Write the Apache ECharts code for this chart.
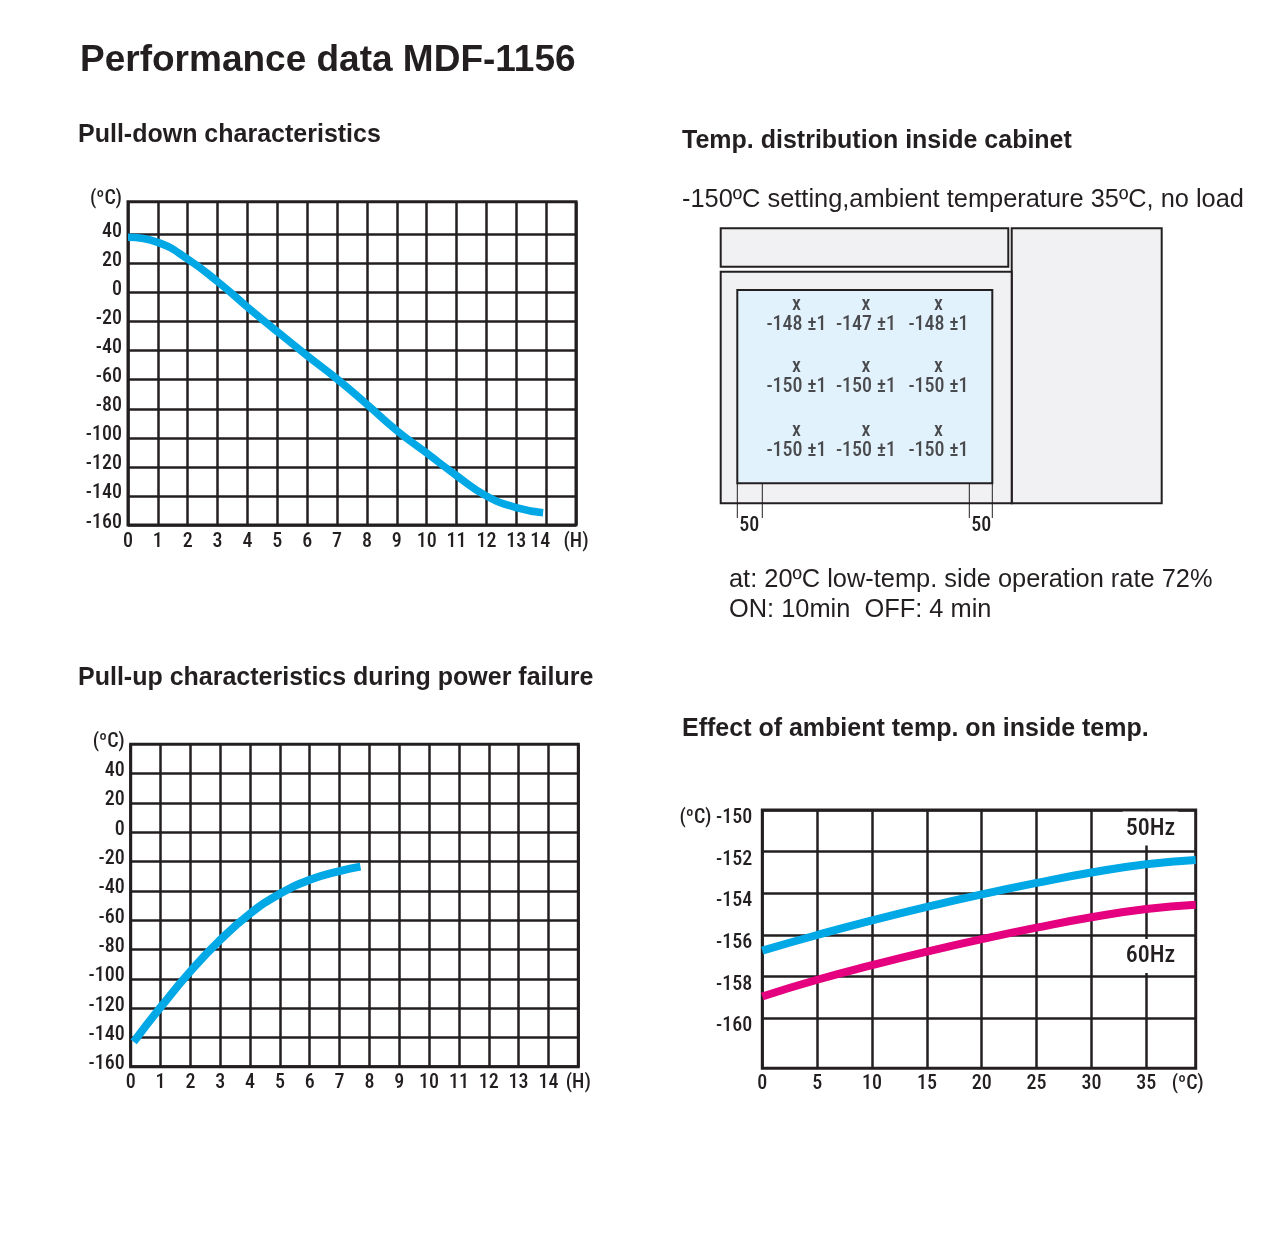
<!DOCTYPE html>
<html>
<head>
<meta charset="utf-8">
<script src="https://cdn.jsdelivr.net/npm/echarts@6/dist/echarts.min.js"></script>
<style>
html,body{margin:0;padding:0;background:#ffffff;}
#chart{width:1276px;height:1239px;}
</style>
</head>
<body>
<div id="chart"></div>
<script>
// ---------- DATA ----------
// Pull-down characteristics (hours, °C)
const pullDownHours = [0, 1, 2, 3, 4, 5, 6, 7, 8, 9, 10, 11, 12, 13, 13.9];
const pullDownTemps = [38, 34.5, 23, 7.5, -10, -27, -43.5, -59.5, -77, -95, -110.5, -126, -140, -148, -151.5];

// Pull-up characteristics during power failure (hours, °C)
const pullUpHours = [0.1, 1, 2, 3, 4, 5, 6, 7, 7.7];
const pullUpTemps = [-143, -119.5, -95, -73.5, -55.5, -42, -32.5, -26.5, -23.5];

// Effect of ambient temp. on inside temp.
const ambientTemps = [0, 5, 10, 15, 20, 25, 30, 35, 39.5];
const inside50Hz = [-156.75, -156.0, -155.3, -154.65, -154.05, -153.5, -153.0, -152.6, -152.4];
const inside60Hz = [-158.95, -158.15, -157.45, -156.8, -156.2, -155.65, -155.15, -154.75, -154.55];

// Tick labels
const hourTicks = [0, 1, 2, 3, 4, 5, 6, 7, 8, 9, 10, 11, 12, 13, 14];
const pullTempTicks = [-160, -140, -120, -100, -80, -60, -40, -20, 0, 20, 40];
const ambientTicks = [0, 5, 10, 15, 20, 25, 30, 35];
const insideTicks = [-160, -158, -156, -154, -152, -150];

// Temperature distribution inside cabinet (°C, tolerance ±1)
const sensorRows = [
  [-148, -147, -148],
  [-150, -150, -150],
  [-150, -150, -150]
];
const sensorTolerance = 1;
const clearanceLabels = ['50', '50'];

// ---------- STYLE / LAYOUT ----------
const INK = '#231f20';
const CYAN = '#00a8e6';
const MAGENTA = '#e4007f';
const NARROW = "Roboto,'DejaVu Sans Condensed',sans-serif";
const STRETCH = 'condensed';
const SANS = "'Liberation Sans',Arial,Helvetica,sans-serif";
const GRID_W = 2.5;

// cabinet drawing in a hidden coordinate frame (0..442 x 0..290)
const cabinetParts = [
  {kind: 'shell', rect: [0.7, 0.3, 288.3, 38.7]},
  {kind: 'shell', rect: [291.7, 0.3, 441.7, 275.3]},
  {kind: 'shell', rect: [0.7, 43.7, 291.7, 275.3]},
  {kind: 'chamber', rect: [17.3, 62, 272.3, 255.3]}
];
const partFill = {shell: '#f1f1f3', chamber: '#e2f2fc'};
const clearanceSpans = [[17.3, 42.3], [249.3, 272.3]];
const sensorCols = [76.5, 146, 218.5];
const sensorRowY = [87, 149.5, 213];

const labelBase = {color: INK, fontFamily: NARROW, fontStyle: STRETCH, fontWeight: 500, fontSize: 20};

function pullXAxis(gridIndex, shift14) {
  return {
    type: 'value', gridIndex: gridIndex, min: 0, max: 15,
    axisLine: {show: false},
    axisTick: {show: false, customValues: hourTicks.concat([15])},
    splitLine: {show: true, lineStyle: {color: INK, width: GRID_W}},
    axisLabel: Object.assign({}, labelBase, {
      customValues: hourTicks.concat([15]),
      showMinLabel: true, showMaxLabel: true, margin: gridIndex === 0 ? 7 : 6,
      formatter: function (v) {
        if (v === 15) return '(H)';
        if (v === 14 && shift14) return '{s|14}';
        return String(v);
      },
      rich: {s: Object.assign({}, labelBase, {padding: [0, 12, 0, 0]})}
    })
  };
}
function pullYAxis(gridIndex, max) {
  return {
    type: 'value', gridIndex: gridIndex, min: -160, max: max,
    axisLine: {show: false},
    axisTick: {show: false, customValues: pullTempTicks},
    splitLine: {show: true, lineStyle: {color: INK, width: GRID_W}},
    axisLabel: Object.assign({}, labelBase, {
      customValues: pullTempTicks.concat([max]),
      showMinLabel: true, showMaxLabel: true, margin: 6,
      verticalAlign: 'bottom', lineHeight: 5,
      formatter: function (v) { return v === max ? '(ºC)' : String(v); }
    })
  };
}

const zip = (a, b) => a.map((v, i) => [v, b[i]]);
function heading(text, x, y, font) {
  return {type: 'text', x: x, y: y, style: {text: text, font: font, fill: INK, align: 'left', verticalAlign: 'middle', textAlign: 'left', textVerticalAlign: 'middle'}};
}

const option = {
  backgroundColor: '#ffffff',
  animation: false,
  grid: [
    {left: 128, top: 201.7, width: 448, height: 323.3, show: true, borderColor: INK, borderWidth: 3, backgroundColor: 'transparent', outerBoundsMode: 'none', containLabel: false},
    {left: 130.7, top: 744.3, width: 447.6, height: 322.4, show: true, borderColor: INK, borderWidth: 3, backgroundColor: 'transparent', outerBoundsMode: 'none', containLabel: false},
    {left: 762.3, top: 810, width: 433.4, height: 258.3, show: true, borderColor: INK, borderWidth: 3, backgroundColor: 'transparent', outerBoundsMode: 'none', containLabel: false},
    {left: 720, top: 228, width: 442, height: 290, show: false, outerBoundsMode: 'none', containLabel: false}
  ],
  xAxis: [
    pullXAxis(0, true),
    pullXAxis(1, false),
    {
      type: 'value', gridIndex: 2, min: 0, max: 39.5,
      axisLine: {show: false},
      axisTick: {show: false, customValues: ambientTicks},
      splitLine: {show: true, lineStyle: {color: INK, width: GRID_W}},
      axisLabel: Object.assign({}, labelBase, {
        customValues: ambientTicks.concat([39.5]),
        showMinLabel: true, showMaxLabel: true, margin: 6,
        formatter: function (v) { return v === 39.5 ? '{u|(ºC)}' : String(v); },
        rich: {u: Object.assign({}, labelBase, {padding: [0, 16, 0, 0]})}
      })
    },
    {type: 'value', gridIndex: 3, min: 0, max: 442, show: false}
  ],
  yAxis: [
    pullYAxis(0, 62.5),
    pullYAxis(1, 60),
    {
      type: 'value', gridIndex: 2, min: -162.4, max: -150,
      axisLine: {show: false},
      axisTick: {show: false, customValues: insideTicks},
      splitLine: {show: true, lineStyle: {color: INK, width: GRID_W}},
      axisLabel: Object.assign({}, labelBase, {
        customValues: insideTicks,
        showMinLabel: true, showMaxLabel: true, margin: 10,
        verticalAlign: 'top', lineHeight: 16,
        formatter: function (v) { return v === -150 ? '(ºC) -150' : String(v); }
      })
    },
    {type: 'value', gridIndex: 3, min: 0, max: 290, inverse: true, show: false}
  ],
  graphic: [
    heading('Performance data MDF-1156', 80, 61, 'bold 37px ' + SANS),
    heading('Pull-down characteristics', 78, 135, 'bold 25px ' + SANS),
    heading('Temp. distribution inside cabinet', 682, 141, 'bold 25px ' + SANS),
    heading('-150ºC setting,ambient temperature 35ºC, no load', 682, 200, '25.4px ' + SANS),
    heading('at: 20ºC low-temp. side operation rate 72%', 729, 580, '25.4px ' + SANS),
    heading('ON: 10min  OFF: 4 min', 729, 610, '25.4px ' + SANS),
    heading('Pull-up characteristics during power failure', 78, 678, 'bold 25px ' + SANS),
    heading('Effect of ambient temp. on inside temp.', 682, 729, 'bold 25px ' + SANS)
  ],
  series: [
    {
      name: 'Pull-down', type: 'line', xAxisIndex: 0, yAxisIndex: 0,
      data: zip(pullDownHours, pullDownTemps), smooth: true, symbol: 'none',
      lineStyle: {color: CYAN, width: 7.5}, z: 5
    },
    {
      name: 'Pull-up', type: 'line', xAxisIndex: 1, yAxisIndex: 1,
      data: zip(pullUpHours, pullUpTemps), smooth: true, symbol: 'none',
      lineStyle: {color: CYAN, width: 8}, z: 5
    },
    {
      name: '50Hz', type: 'line', xAxisIndex: 2, yAxisIndex: 2,
      data: zip(ambientTemps, inside50Hz), smooth: true, symbol: 'none',
      lineStyle: {color: CYAN, width: 8}, z: 5,
      markPoint: {
        symbol: 'circle', symbolSize: 0, silent: true,
        label: Object.assign({}, labelBase, {show: true, position: 'inside', formatter: '50Hz', fontSize: 24, lineHeight: 24, backgroundColor: '#ffffff', padding: [7, 3, 3, 3]}),
        data: [{coord: [35.37, -150.89]}]
      }
    },
    {
      name: '60Hz', type: 'line', xAxisIndex: 2, yAxisIndex: 2,
      data: zip(ambientTemps, inside60Hz), smooth: true, symbol: 'none',
      lineStyle: {color: MAGENTA, width: 8}, z: 5,
      markPoint: {
        symbol: 'circle', symbolSize: 0, silent: true,
        label: Object.assign({}, labelBase, {show: true, position: 'inside', formatter: '60Hz', fontSize: 24, lineHeight: 24, backgroundColor: '#ffffff', padding: [6, 3, 4, 3]}),
        data: [{coord: [35.37, -157.01]}]
      }
    },
    {
      name: 'Cabinet', type: 'custom', xAxisIndex: 3, yAxisIndex: 3, silent: true, z: 1,
      data: cabinetParts.map(p => p.rect),
      renderItem: function (params, api) {
        const p0 = api.coord([api.value(0), api.value(1)]);
        const p1 = api.coord([api.value(2), api.value(3)]);
        return {
          type: 'rect',
          shape: {x: p0[0], y: p0[1], width: p1[0] - p0[0], height: p1[1] - p0[1]},
          style: {fill: partFill[cabinetParts[params.dataIndex].kind], stroke: INK, lineWidth: 2}
        };
      }
    },
    {
      name: 'Clearance', type: 'custom', xAxisIndex: 3, yAxisIndex: 3, silent: true, z: 2,
      data: clearanceSpans,
      renderItem: function (params, api) {
        const a = api.coord([api.value(0), 255.3]);
        const b = api.coord([api.value(1), 290]);
        return {
          type: 'group',
          children: [
            {type: 'line', shape: {x1: a[0], y1: a[1], x2: a[0], y2: b[1]}, style: {stroke: INK, lineWidth: 1}},
            {type: 'line', shape: {x1: b[0], y1: a[1], x2: b[0], y2: b[1]}, style: {stroke: INK, lineWidth: 1}},
            {type: 'text', x: a[0] + 2, y: b[1] + 8, style: {text: clearanceLabels[params.dataIndex], font: STRETCH + ' 500 20px ' + NARROW, fill: INK, align: 'left', verticalAlign: 'middle', textAlign: 'left', textVerticalAlign: 'middle'}}
          ]
        };
      }
    },
    {
      name: 'Sensors', type: 'scatter', xAxisIndex: 3, yAxisIndex: 3, silent: true, z: 3,
      symbolSize: 0, itemStyle: {color: 'transparent'},
      data: sensorRows.flatMap((row, r) => row.map((v, c) => [sensorCols[c], sensorRowY[r], v])),
      label: {
        show: true, position: 'inside',
        formatter: function (p) { return '{x|x}\n{v|' + p.value[2] + ' ±' + sensorTolerance + '}'; },
        rich: {
          x: Object.assign({}, labelBase, {fontSize: 20, lineHeight: 19}),
          v: Object.assign({}, labelBase, {fontSize: 20, lineHeight: 21})
        }
      }
    }
  ]
};

const chart = echarts.init(document.getElementById('chart'), null, {renderer: 'canvas'});
chart.setOption(option);
</script>
</body>
</html>
